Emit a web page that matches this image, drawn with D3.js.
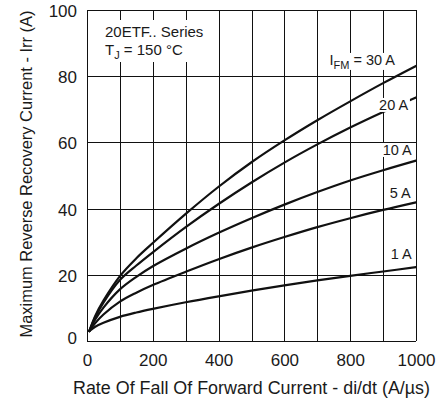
<!DOCTYPE html>
<html>
<head>
<meta charset="utf-8">
<script src="https://cdn.jsdelivr.net/npm/d3@7"></script>
<style>
  html, body { margin: 0; padding: 0; background: #fff; }
  svg { display: block; }
  text { font-family: "Liberation Sans", Arial, sans-serif; fill: #1a1a1a; }
</style>
</head>
<body>
<script>
// ---- data ----
const didt   = [7, 25, 50, 100, 150, 200, 300, 400, 500, 600, 700, 800, 900, 1000];
const irr30A = [3, 7.6, 12.2, 19.6, 25, 29.6, 38.4, 46.6, 54, 60.6, 66.7, 72.4, 77.9, 83.1];
const irr20A = [3, 7.2, 11.6, 18.4, 22.8, 26.8, 34.4, 41.4, 47.9, 53.9, 59.4, 64.5, 69.2, 73.6];
const irr10A = [3, 6.5, 10.1, 15.6, 19.4, 22.6, 27.9, 32.7, 37.1, 41.2, 45, 48.5, 51.6, 54.5];
const irr5A  = [3, 5.4, 8, 11.9, 14.6, 16.9, 20.9, 24.7, 28.2, 31.4, 34.4, 37.1, 39.6, 41.9];
const irr1A  = [3, 4.3, 5.5, 7.3, 8.6, 9.7, 11.7, 13.5, 15.2, 16.8, 18.3, 19.7, 21, 22.3];
const seriesNames = ["30 A", "20 A", "10 A", "5 A", "1 A"];
const seriesValues = [irr30A, irr20A, irr10A, irr5A, irr1A];
// label anchor (end of text) in data coords
const labelX = [936, 976, 987, 984, 987];
const labelY = [83.4, 69.8, 56.2, 43.1, 24.7];
const xTicks = [0, 200, 400, 600, 800, 1000];
const yTicks = [0, 20, 40, 60, 80, 100];
const xTitle = "Rate Of Fall Of Forward Current - di/dt (A/\u00b5s)";
const yTitle = "Maximum Reverse Recovery Current - Irr (A)";

// ---- layout ----
const W = 438, H = 407;
const m = { left: 87, right: 22, top: 10, bottom: 66 };
const svg = d3.select("body").append("svg").attr("width", W).attr("height", H);

const x = d3.scaleLinear().domain([0, 1000]).range([m.left, W - m.right]);
const y = d3.scaleLinear().domain([0, 100]).range([H - m.bottom, m.top]);

// grid
const grid = svg.append("g").attr("stroke", "#111").attr("stroke-width", 1).attr("shape-rendering", "crispEdges");
grid.selectAll("line.v").data(d3.range(0, 1001, 100)).join("line")
  .attr("x1", d => Math.round(x(d)) + 0.5).attr("x2", d => Math.round(x(d)) + 0.5)
  .attr("y1", y(0)).attr("y2", y(100));
grid.selectAll("line.h").data(d3.range(0, 101, 20)).join("line")
  .attr("y1", d => Math.round(y(d)) + 0.5).attr("y2", d => Math.round(y(d)) + 0.5)
  .attr("x1", x(0)).attr("x2", x(1000));

// axes (labels only)
const xAxis = d3.axisBottom(x).tickValues(xTicks).tickFormat(d3.format("d")).tickSize(0).tickPadding(0);
const gx = svg.append("g").attr("transform", `translate(0,${y(0)})`).call(xAxis);
gx.select(".domain").remove();
gx.selectAll("text").attr("font-size", 17).attr("dy", null).attr("y", 25)
  .attr("font-family", '"Liberation Sans", Arial, sans-serif').attr("fill", "#1a1a1a");

const yAxis = d3.axisLeft(y).tickValues(yTicks).tickFormat(d3.format("d")).tickSize(0).tickPadding(0);
const gy = svg.append("g").attr("transform", `translate(${x(0) - 10},0)`).call(yAxis);
gy.select(".domain").remove();
gy.selectAll("text").attr("font-size", 17).attr("dy", null)
  .attr("y", d => d === 0 ? 2 : 6.5)
  .attr("font-family", '"Liberation Sans", Arial, sans-serif').attr("fill", "#1a1a1a");

// curves
const line = d3.line().x((d, i) => x(didt[i])).y(d => y(d)).curve(d3.curveCatmullRom.alpha(0.5));
svg.append("g").selectAll("path").data(seriesValues).join("path")
  .attr("d", d => line(d)).attr("fill", "none").attr("stroke", "#111")
  .attr("stroke-width", 2.2).attr("stroke-linejoin", "round").attr("stroke-linecap", "round");

// helper: white background behind text
function backed(g, pad) {
  const bb = g.select("text").node().getBBox();
  g.insert("rect", "text").attr("x", bb.x - pad).attr("y", bb.y + 1)
    .attr("width", bb.width + 2 * pad).attr("height", bb.height - 2).attr("fill", "#fff");
}

// curve labels
seriesNames.forEach((name, i) => {
  const g = svg.append("g");
  const t = g.append("text").attr("x", x(labelX[i])).attr("y", y(labelY[i]))
    .attr("text-anchor", "end").attr("font-size", 14.5);
  if (i === 0) {
    t.append("tspan").text("I");
    t.append("tspan").attr("font-size", 11).attr("dy", 4).text("FM");
    t.append("tspan").attr("dy", -4).text(" = " + name);
  } else {
    t.text(name);
  }
  backed(g, 1.5);
});

// info box
const info = svg.append("g");
info.append("rect").attr("x", 100).attr("y", 20).attr("width", 112).attr("height", 42).attr("fill", "#fff");
info.append("text").attr("x", 105).attr("y", 37).attr("font-size", 15).text("20ETF.. Series");
const tj = info.append("text").attr("x", 105).attr("y", 55).attr("font-size", 15);
tj.append("tspan").text("T");
tj.append("tspan").attr("font-size", 11).attr("dy", 4).text("J");
tj.append("tspan").attr("dy", -4).text(" = 150 \u00b0C");

// axis titles
svg.append("text").attr("x", (x(0) + x(1000)) / 2).attr("y", 394)
  .attr("text-anchor", "middle").attr("font-size", 17.5)
  .attr("textLength", 357).attr("lengthAdjust", "spacingAndGlyphs").text(xTitle);
svg.append("text").attr("transform", `translate(31.5,174) rotate(-90)`)
  .attr("text-anchor", "middle").attr("font-size", 16.5)
  .attr("textLength", 327).attr("lengthAdjust", "spacingAndGlyphs").text(yTitle);
</script>
</body>
</html>
